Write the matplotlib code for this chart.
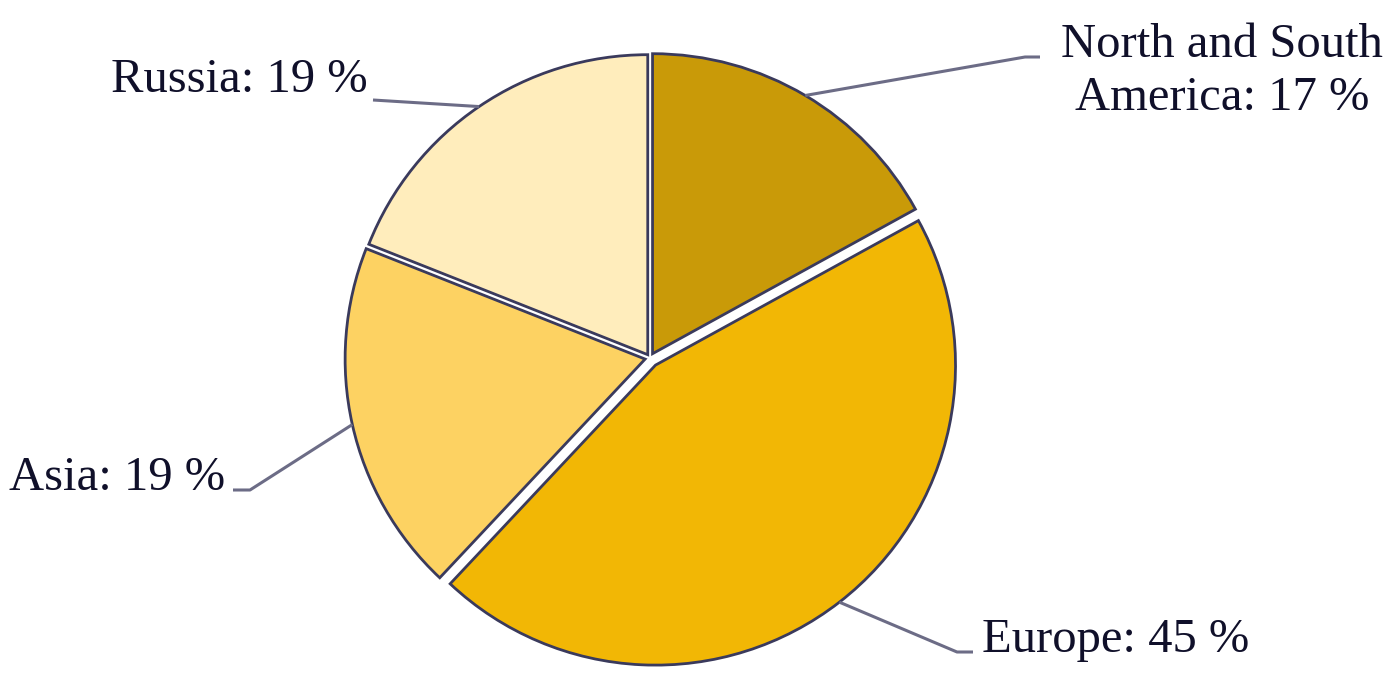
import numpy as np
import matplotlib.pyplot as plt

regions = ["North and South America", "Europe", "Asia", "Russia"]
shares = [17, 45, 19, 19]
colors = ["#C99A08", "#F2B705", "#FDD262", "#FFEDBC"]

plt.rcParams['font.family'] = ['Liberation Serif', 'DejaVu Serif']

fig = plt.figure(figsize=(14, 6.78), dpi=100)
ax = fig.add_axes([0, 0, 1, 1])
ax.set_xlim(0, 1400)
ax.set_ylim(0, 678)
ax.set_aspect('equal')
ax.axis('off')

R = 300
wedges, _ = ax.pie(shares, center=(650, 320), radius=R, startangle=90,
                   counterclock=False, explode=[5, 9, 5, 4],
                   colors=colors,
                   wedgeprops=dict(edgecolor="#3a3a5c", linewidth=2.0))
ax.set_xlim(0, 1400)
ax.set_ylim(0, 678)

# точки на краю кожного сектора (середина дуги)
anchors = []
for w in wedges:
    ang = np.deg2rad((w.theta1 + w.theta2) / 2)
    cx, cy = w.center
    anchors.append((cx + R * np.cos(ang), cy + R * np.sin(ang)))

line_kw = dict(color="#6c6c86", lw=2.2, solid_capstyle='butt')
text_kw = dict(fontsize=35, color="#10102a")

# North and South America
ax.plot([anchors[0][0], 1025, 1040], [anchors[0][1], 621, 621], **line_kw)
ax.text(1222, 621, "North and South", ha='center', va='baseline', **text_kw)
ax.text(1222, 568, "America: 17 %", ha='center', va='baseline', **text_kw)

# Europe
ax.plot([anchors[1][0], 957, 973], [anchors[1][1], 26, 26], **line_kw)
ax.text(982, 26, "Europe: 45 %", ha='left', va='baseline', **text_kw)

# Asia
ax.plot([anchors[2][0], 250, 233], [anchors[2][1], 188, 188], **line_kw)
ax.text(225, 188, "Asia: 19 %", ha='right', va='baseline', **text_kw)

# Russia
ax.plot([anchors[3][0], 373], [anchors[3][1], 578], **line_kw)
ax.text(368, 586, "Russia: 19 %", ha='right', va='baseline', **text_kw)

fig.savefig("out.png", dpi=100, facecolor='white')
